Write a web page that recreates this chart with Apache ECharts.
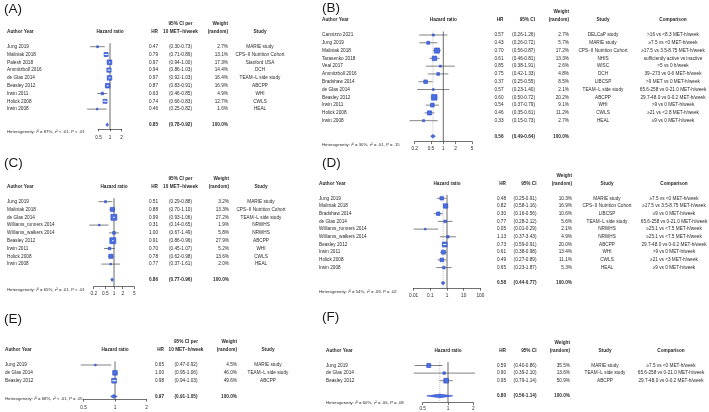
<!DOCTYPE html>
<html><head><meta charset="utf-8">
<script src="https://cdn.jsdelivr.net/npm/echarts@6/dist/echarts.min.js"></script>
<style>html,body{margin:0;padding:0;background:#fff}#c{width:709px;height:412px}</style>
</head><body><div id="c"></div>
<script>
// ---------------- DATA ----------------
// Panel A
const A_authors = ['Jung 2019','Maliniak 2018','Palesh 2018','Ammitzboll 2016','de Glas 2014','Beasley 2012','Irwin 2011','Holick 2008','Irwin 2008'];
const A_hr      = [0.47,0.79,0.97,0.94,0.97,0.87,0.63,0.74,0.46];
const A_lower   = [0.30,0.71,0.94,0.86,0.92,0.83,0.46,0.66,0.25];
const A_upper   = [0.73,0.89,1.00,1.03,1.03,0.91,0.85,0.83,0.82];
const A_weight  = [2.7,13.1,17.3,14.4,16.4,16.9,4.9,12.7,1.6];
const A_study   = ['MARIE study','CPS\u2212II Nutrition Cohort','Stanford USA','DCH','TEAM\u2212L side study','ABCPP','WHI','CWLS','HEAL'];
const A_summary = [0.85,0.78,0.92];
const A_ticks   = [0.5,1,2];
const A_het     = ['= 87%','< .01','< .01'];

// Panel B
const B_authors = ['Cannizzo 2021','Jung 2019','Maliniak 2018','Tarasenko 2018','Veal 2017','Ammitzboll 2016','Bradshaw 2014','de Glas 2014','Beasley 2012','Irwin 2011','Holick 2008','Irwin 2008'];
const B_hr      = [0.57,0.43,0.70,0.61,0.85,0.75,0.37,0.57,0.60,0.54,0.46,0.33];
const B_lower   = [0.26,0.26,0.56,0.46,0.38,0.42,0.25,0.23,0.50,0.37,0.35,0.15];
const B_upper   = [1.26,0.72,0.87,0.81,1.91,1.33,0.55,1.40,0.72,0.79,0.61,0.73];
const B_weight  = [2.7,5.7,17.2,13.3,2.6,4.8,8.5,2.1,20.2,9.1,11.2,2.7];
const B_study   = ['DELCaP study','MARIE study','CPS\u2212II Nutrition Cohort','NHIS','WISC','DCH','LIBCSP','TEAM\u2212L side study','ABCPP','WHI','CWLS','HEAL'];
const B_comparison = ['>16 vs <8.3 MET-h/week','\u22657.5 vs <0 MET-h/week','\u226517.5 vs 3.5-8.75 MET-h/week','sufficiently active vs inactive','>5 vs 0 h/week','39\u2013273 vs 0-6 MET-h/week','>9 MET vs 0 MET-h/week','65.6-258 vs 0-21.0 MET-h/week','29.7-48.0 vs 0-0.2 MET-h/week','>9 vs 0 MET-h/week','\u226521 vs <2.8 MET-h/week','\u22659 vs 0 MET-h/week'];
const B_summary = [0.56,0.49,0.64];
const B_ticks   = [0.2,0.5,1,2,5];
const B_het     = ['= 30%','= .01','= .15'];

// Panel C
const C_authors = ['Jung 2019','Maliniak 2018','de Glas 2014','Williams_runners 2014','Williams_walkers 2014','Beasley 2012','Irwin 2011','Holick 2008','Irwin 2008'];
const C_hr      = [0.51,0.88,0.99,0.31,1.00,0.91,0.70,0.78,0.77];
const C_lower   = [0.29,0.70,0.93,0.14,0.67,0.86,0.45,0.62,0.37];
const C_upper   = [0.88,1.10,1.06,0.65,1.49,0.96,1.07,0.98,1.61];
const C_weight  = [3.2,13.3,27.2,1.9,5.8,27.9,5.2,13.6,2.0];
const C_study   = ['MARIE study','CPS\u2212II Nutrition Cohort','TEAM\u2212L side study','NRWHS','NRWHS','ABCPP','WHI','CWLS','HEAL'];
const C_summary = [0.86,0.77,0.96];
const C_ticks   = [0.2,0.5,1,2,5];
const C_het     = ['= 65%','= .01','< .01'];

// Panel D
const D_authors = ['Jung 2019','Maliniak 2018','Bradshaw 2014','de Glas 2014','Williams_runners 2014','Williams_walkers 2014','Beasley 2012','Irwin 2011','Holick 2008','Irwin 2008'];
const D_hr      = [0.48,0.82,0.30,0.77,0.05,1.13,0.73,0.61,0.49,0.65];
const D_lower   = [0.25,0.58,0.16,0.28,0.01,0.37,0.59,0.38,0.27,0.23];
const D_upper   = [0.91,1.16,0.56,2.12,0.29,3.43,0.91,0.98,0.89,1.87];
const D_weight  = [10.3,16.9,10.6,5.6,2.1,4.9,20.0,13.4,11.1,5.3];
const D_study   = ['MARIE study','CPS\u2212II Nutrition Cohort','LIBCSP','TEAM\u2212L side study','NRWHS','NRWHS','ABCPP','WHI','CWLS','HEAL'];
const D_comparison = ['\u22657.5 vs <0 MET-h/week','\u226517.5 vs 3.5-8.75 MET-h/week','\u22659 vs 0 MET-h/week','65.6-258 vs 0-21.0 MET-h/week','\u226525.1 vs <7.5 MET-h/week','\u226525.1 vs <7.5 MET-h/week','29.7-48.0 vs 0-0.2 MET-h/week','>9 vs 0 MET-h/week','\u226521 vs <3 MET-h/week','\u22659 vs 0 MET-h/week'];
const D_summary = [0.58,0.44,0.77];
const D_ticks   = [0.01,0.1,1,10,100];
const D_het     = ['= 54%','= .09','= .02'];

// Panel E
const E_authors = ['Jung 2019','de Glas 2014','Beasley 2012'];
const E_hr      = [0.65,1.00,0.98];
const E_lower   = [0.47,0.95,0.94];
const E_upper   = [0.92,1.06,1.03];
const E_weight  = [4.5,46.0,49.6];
const E_study   = ['MARIE study','TEAM\u2212L side study','ABCPP'];
const E_summary = [0.97,0.91,1.05];
const E_ticks   = [0.5,1,2];
const E_het     = ['= 68%','< .01','= .05'];

// Panel F
const F_authors = ['Jung 2019','de Glas 2014','Beasley 2012'];
const F_hr      = [0.59,0.90,0.95];
const F_lower   = [0.40,0.39,0.79];
const F_upper   = [0.86,2.10,1.14];
const F_weight  = [35.5,13.6,50.9];
const F_study   = ['MARIE study','TEAM\u2212L side study','ABCPP'];
const F_comparison = ['\u22657.5 vs <0 MET-h/week','65.6-258 vs 0-21.0 MET-h/week','29.7-48.0 vs 0-0.2 MET-h/week'];
const F_summary = [0.80,0.56,1.14];
const F_ticks   = [0.5,1,2];
const F_het     = ['= 60%','= .06','= .08'];

// ---------------- LAYOUT / STYLE ----------------
const FONT = "'Liberation Sans', Arial, Helvetica, sans-serif";
const FS = 4.7;
const TXT = '#2a2a2a';
const SQ_FILL = '#4a6fe3', SQ_STROKE = '#2a49c2', CI_COL = '#4d4d4d';

const panels = [
 {label:'(A)', authors:A_authors, hr:A_hr, lower:A_lower, upper:A_upper, weight:A_weight, study:A_study, comparison:null, summary:A_summary, ticks:A_ticks, het:A_het,
  L:{hr1:110, k:38, rowTop:46.7, dy:7.8, yMaxRow:10.55, sumRow:10, hetRow:10.94, box:4.7, gap:6.4, lx:4, ly:10, dotted:false,
     cols:{author:7, hr:158, ci:180.5, ciAlign:'center', weight:228, study:260}}},
 {label:'(B)', authors:B_authors, hr:B_hr, lower:B_lower, upper:B_upper, weight:B_weight, study:B_study, comparison:B_comparison, summary:B_summary, ticks:B_ticks, het:B_het,
  L:{hr1:443.3, k:41, rowTop:35, dy:7.79, yMaxRow:13.7, sumRow:13, hetRow:14.12, box:5.6, gap:4.2, lx:322, ly:9, dotted:true,
     cols:{author:322, hr:503.5, ci:535, ciAlign:'right', weight:569, study:603, comp:673}}},
 {label:'(C)', authors:C_authors, hr:C_hr, lower:C_lower, upper:C_upper, weight:C_weight, study:C_study, comparison:null, summary:C_summary, ticks:C_ticks, het:C_het,
  L:{hr1:114, k:29, rowTop:201.7, dy:7.8, yMaxRow:10.9, sumRow:10, hetRow:11.35, box:6, gap:4, lx:4, ly:164, dotted:false,
     cols:{author:7, hr:158, ci:180.5, ciAlign:'center', weight:229, study:261}}},
 {label:'(D)', authors:D_authors, hr:D_hr, lower:D_lower, upper:D_upper, weight:D_weight, study:D_study, comparison:D_comparison, summary:D_summary, ticks:D_ticks, het:D_het,
  L:{hr1:447, k:16.7, rowTop:198.3, dy:7.7, yMaxRow:11.69, sumRow:11, hetRow:12.1, box:4.8, gap:4.4, lx:322, ly:164, dotted:true,
     cols:{author:319, hr:506, ci:536.5, ciAlign:'right', weight:572, study:607, comp:674}}},
 {label:'(E)', authors:E_authors, hr:E_hr, lower:E_lower, upper:E_upper, weight:E_weight, study:E_study, comparison:null, summary:E_summary, ticks:E_ticks, het:E_het,
  L:{hr1:115, k:104.6, rowTop:365, dy:7.85, yMaxRow:4.37, sumRow:4, hetRow:4.3, box:4.8, gap:6.2, lx:4, ly:320, dotted:false,
     cols:{author:5, hr:164, ci:186, ciAlign:'center', weight:237, study:268}}},
 {label:'(F)', authors:F_authors, hr:F_hr, lower:F_lower, upper:F_upper, weight:F_weight, study:F_study, comparison:F_comparison, summary:F_summary, ticks:F_ticks, het:F_het,
  L:{hr1:448, k:84, rowTop:365.5, dy:7.6, yMaxRow:4.9, sumRow:4, hetRow:4.95, box:4.8, gap:3.3, lx:322, ly:318, dotted:true,
     cols:{author:326, hr:506, ci:536.5, ciAlign:'right', weight:570, study:605, comp:671}}}
];
const Y_MIN_ROW = -0.45;

// ---------------- HELPERS ----------------
function fmt2(v){ return v.toFixed(2); }
function ciText(lo, hi){ return '(' + fmt2(lo) + '-' + fmt2(hi) + ')'; }
function txt(x, y, text, align, bold, size, extra){
  return {type:'text', x:x, y:y, silent:true, style:Object.assign({text:text, fill:TXT, fontSize:size||FS, fontFamily:FONT,
          fontWeight:bold?'bold':'normal', align:align, verticalAlign:'middle'}, extra||{})};
}

const grids = [], xAxes = [], yAxes = [], series = [], graphics = [];

panels.forEach(function(p, gi){
  const L = p.L, c = L.cols;
  const lmin = Math.log10(p.ticks[0]), lmax = Math.log10(p.ticks[p.ticks.length-1]);
  grids.push({left: L.hr1 + L.k*lmin, width: L.k*(lmax-lmin), top: L.rowTop + L.dy*Y_MIN_ROW,
              height: L.dy*(L.yMaxRow - Y_MIN_ROW), containLabel:false, outerBoundsMode:'none'});
  const ticks = p.ticks;
  xAxes.push({type:'log', logBase:10, gridIndex:gi, min:ticks[0], max:ticks[ticks.length-1],
    axisLine:{show:true, onZero:false, lineStyle:{color:'#111', width:0.6}},
    axisTick:{show:true, customValues:ticks, length:2.4, lineStyle:{color:'#111', width:0.6}},
    axisLabel:{show:true, customValues:ticks, margin:L.gap, fontSize:FS, fontFamily:FONT, color:TXT,
      formatter:function(v){ let best=ticks[0]; ticks.forEach(function(t){ if(Math.abs(Math.log(t)-Math.log(v))<Math.abs(Math.log(best)-Math.log(v))) best=t; }); return String(best); }},
    splitLine:{show:false}, minorTick:{show:false}, minorSplitLine:{show:false}});
  yAxes.push({type:'value', gridIndex:gi, min:Y_MIN_ROW, max:L.yMaxRow, inverse:true, show:false, splitLine:{show:false}});

  // reference lines (HR = 1 solid, pooled estimate dotted)
  const refData = [[1, 0, 0]];
  if (L.dotted) refData.push([p.summary[0], 0, 1]);
  series.push({type:'custom', coordinateSystem:'cartesian2d', xAxisIndex:gi, yAxisIndex:gi, clip:false, silent:true, z:1,
    encode:{x:0, y:1}, data:refData,
    renderItem:function(params, api){
      const x = api.coord([api.value(0), 0])[0];
      const y0 = api.coord([1, Y_MIN_ROW])[1], y1 = api.coord([1, L.yMaxRow])[1];
      const dotted = api.value(2) === 1;
      return {type:'line', shape:{x1:x, y1:y0, x2:x, y2:y1},
        style:{stroke: dotted ? '#9a9a9a' : '#5a5a5a', lineWidth: dotted ? 0.6 : 0.9, lineDash: dotted ? [1,1] : null}};
    }});

  // study estimates + pooled diamond
  const wMax = Math.max.apply(null, p.weight);
  const markData = p.hr.map(function(h, i){ return [h, i, p.lower[i], p.upper[i], p.weight[i], 0]; });
  markData.push([p.summary[0], L.sumRow, p.summary[1], p.summary[2], 100, 1]);
  series.push({type:'custom', coordinateSystem:'cartesian2d', xAxisIndex:gi, yAxisIndex:gi, clip:false, silent:true, z:3,
    encode:{x:0, y:1}, data:markData,
    renderItem:function(params, api){
      const row = api.value(1);
      const pc = api.coord([api.value(0), row]), pl = api.coord([api.value(2), row]), ph = api.coord([api.value(3), row]);
      if (api.value(5) === 1) {
        const h = 1.8;
        return {type:'polygon', shape:{points:[[pl[0],pc[1]],[pc[0],pc[1]-h],[ph[0],pc[1]],[pc[0],pc[1]+h]]},
          style:{fill:SQ_FILL, stroke:SQ_STROKE, lineWidth:0.6}};
      }
      const s = Math.max(1.6, L.box*Math.sqrt(api.value(4)/wMax));
      const inside = (pc[0]-pl[0]) < s/2 && (ph[0]-pc[0]) < s/2;
      const ch = [];
      if (!inside) ch.push({type:'line', shape:{x1:pl[0], y1:pc[1], x2:ph[0], y2:pc[1]}, style:{stroke:CI_COL, lineWidth:0.7}});
      ch.push({type:'rect', shape:{x:pc[0]-s/2, y:pc[1]-s/2, width:s, height:s}, style:{fill:SQ_FILL, stroke:SQ_STROKE, lineWidth:0.6}});
      if (inside) ch.push({type:'line', shape:{x1:pl[0], y1:pc[1], x2:ph[0], y2:pc[1]}, style:{stroke:'#ffffff', lineWidth:1.0}});
      return {type:'group', children:ch};
    }});

  // table text (rows, pooled row, header, heterogeneity)
  const tData = p.authors.map(function(a, i){ return [1, i, i, 0]; });
  tData.push([1, L.sumRow, 0, 1]);
  tData.push([1, -15/L.dy, 0, 2]);
  tData.push([1, L.hetRow, 0, 3]);
  const perUnit = !p.comparison;
  series.push({type:'custom', coordinateSystem:'cartesian2d', xAxisIndex:gi, yAxisIndex:gi, clip:false, silent:true, z:5,
    encode:{x:0, y:1}, data:tData,
    renderItem:function(params, api){
      const idx = api.value(2), kind = api.value(3);
      const y = api.coord([1, api.value(1)])[1];
      const ch = [];
      if (kind === 0) {
        ch.push(txt(c.author, y, p.authors[idx], 'left'));
        ch.push(txt(c.hr, y, fmt2(p.hr[idx]), 'right'));
        ch.push(txt(c.ci, y, ciText(p.lower[idx], p.upper[idx]), c.ciAlign));
        ch.push(txt(c.weight, y, p.weight[idx].toFixed(1) + '%', 'right'));
        ch.push(txt(c.study, y, p.study[idx], 'center'));
        if (p.comparison) ch.push(txt(c.comp, y, p.comparison[idx], 'center'));
      } else if (kind === 1) {
        ch.push(txt(c.hr, y, fmt2(p.summary[0]), 'right', true));
        ch.push(txt(c.ci, y, ciText(p.summary[1], p.summary[2]), c.ciAlign, true));
        ch.push(txt(c.weight, y, '100.0%', 'right', true));
      } else if (kind === 2) {
        const y1 = y - 8;
        ch.push(txt(c.author, y, 'Author Year', 'left', true));
        ch.push(txt(L.hr1, y, 'Hazard ratio', 'center', true));
        ch.push(txt(c.hr, y, 'HR', 'right', true));
        if (perUnit) {
          ch.push(txt(c.ci, y1, '95% CI per', 'center', true));
          ch.push(txt(c.ci, y, '10 MET\u2212h/week', 'center', true));
        } else {
          ch.push(txt(c.ci, y, '95% CI', 'right', true));
        }
        ch.push(txt(c.weight, y1, 'Weight', 'right', true));
        ch.push(txt(c.weight, y, '(random)', 'right', true));
        ch.push(txt(c.study, y, 'Study', 'center', true));
        if (p.comparison) ch.push(txt(c.comp, y, 'Comparison', 'center', true));
      } else {
        const hs = 4.3;
        const it = {fontStyle:'italic', fontSize:hs, fontFamily:FONT, fill:TXT};
        ch.push(txt(c.author, y, 'Heterogeneity: {i|I}\u00b2 ' + p.het[0] + ', {i|\u03c4}\u00b2 ' + p.het[1] + ', {i|P} ' + p.het[2],
                    'left', false, hs, {rich:{i:it}}));
      }
      return {type:'group', children:ch};
    }});

  graphics.push({type:'text', left:L.lx, top:L.ly - 8, silent:true,
    style:{text:p.label, fontSize:13.5, fontFamily:FONT, fill:'#1a1a1a'}});
});

const chart = echarts.init(document.getElementById('c'), null, {renderer:'canvas'});
chart.setOption({
  animation:false, backgroundColor:'#ffffff',
  grid:grids, xAxis:xAxes, yAxis:yAxes, series:series, graphic:graphics
});
</script></body></html>
